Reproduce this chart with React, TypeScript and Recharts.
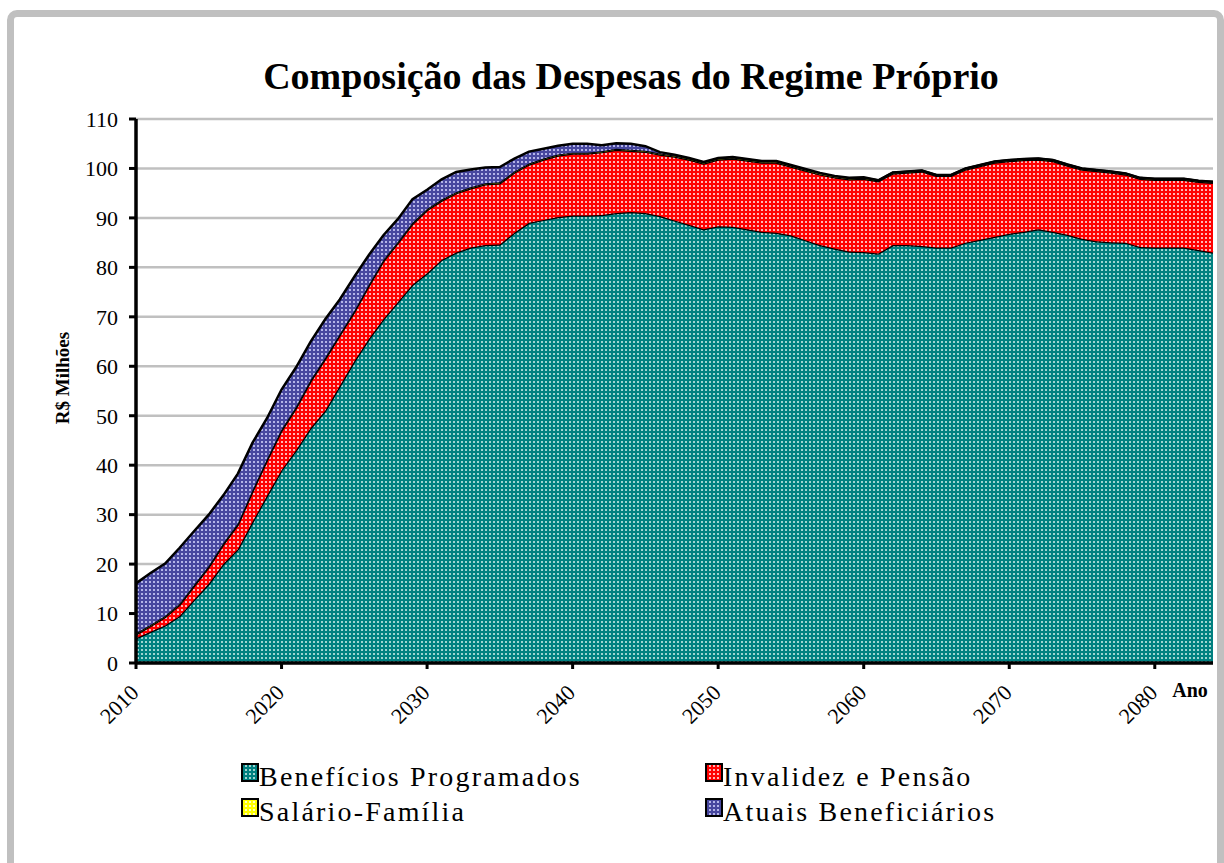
import React from 'react';
import { AreaChart, Area, XAxis, YAxis, CartesianGrid } from 'recharts';

const years = [
  2010, 2011, 2012, 2013, 2014, 2015, 2016, 2017, 2018, 2019,
  2020, 2021, 2022, 2023, 2024, 2025, 2026, 2027, 2028, 2029,
  2030, 2031, 2032, 2033, 2034, 2035, 2036, 2037, 2038, 2039,
  2040, 2041, 2042, 2043, 2044, 2045, 2046, 2047, 2048, 2049,
  2050, 2051, 2052, 2053, 2054, 2055, 2056, 2057, 2058, 2059,
  2060, 2061, 2062, 2063, 2064, 2065, 2066, 2067, 2068, 2069,
  2070, 2071, 2072, 2073, 2074, 2075, 2076, 2077, 2078, 2079,
  2080, 2081, 2082, 2083, 2084,
];

const beneficiosProgramados = [
  5.0, 6.3, 7.6, 9.5, 12.8, 16.0, 20.0, 23.0, 28.5, 33.8,
  39.0, 43.0, 47.5, 51.0, 56.0, 61.0, 65.5, 69.5, 73.0, 76.5,
  78.8, 81.5, 83.0, 84.0, 84.5, 84.6, 87.0, 89.0, 89.6, 90.2,
  90.5, 90.5, 90.6, 91.0, 91.2, 91.0, 90.4, 89.5, 88.6, 87.7,
  88.3, 88.2, 87.7, 87.2, 87.0, 86.5, 85.5, 84.5, 83.8, 83.2,
  83.1, 82.8, 84.5, 84.5, 84.3, 84.0, 84.0, 85.0, 85.6, 86.2,
  86.8, 87.2, 87.7, 87.2, 86.6, 85.8, 85.3, 85.1, 85.0, 84.1,
  84.0, 84.0, 84.0, 83.5, 83.0,
];

const invalidezPensao = [
  0.8, 1.2, 1.7, 2.3, 2.8, 3.4, 4.0, 5.0, 6.2, 7.2,
  8.0, 8.6, 9.5, 10.5, 10.3, 10.0, 10.8, 11.8, 12.0, 12.3,
  12.8, 12.0, 12.0, 12.0, 12.3, 12.4, 12.2, 11.8, 12.2, 12.4,
  12.5, 12.5, 12.7, 12.8, 12.4, 12.4, 12.4, 12.9, 13.2, 13.3,
  13.5, 13.8, 13.9, 14.0, 14.2, 13.9, 14.1, 14.3, 14.4, 14.6,
  14.8, 14.6, 14.5, 14.7, 15.1, 14.5, 14.5, 14.8, 14.9, 15.0,
  14.7, 14.5, 14.1, 14.3, 14.0, 14.0, 14.2, 14.1, 13.8, 13.8,
  13.7, 13.7, 13.7, 13.8, 14.1,
];

const salarioFamilia = [
  0.2, 0.2, 0.2, 0.2, 0.2, 0.2, 0.2, 0.2, 0.2, 0.2,
  0.2, 0.2, 0.2, 0.2, 0.2, 0.2, 0.2, 0.2, 0.2, 0.2,
  0.2, 0.2, 0.2, 0.2, 0.2, 0.2, 0.2, 0.2, 0.2, 0.2,
  0.2, 0.2, 0.2, 0.2, 0.2, 0.2, 0.2, 0.2, 0.2, 0.2,
  0.2, 0.2, 0.2, 0.2, 0.2, 0.2, 0.2, 0.2, 0.2, 0.2,
  0.2, 0.2, 0.2, 0.2, 0.2, 0.2, 0.2, 0.2, 0.2, 0.2,
  0.2, 0.2, 0.2, 0.2, 0.2, 0.2, 0.2, 0.2, 0.2, 0.2,
  0.2, 0.2, 0.2, 0.2, 0.2,
];

const atuaisBeneficiarios = [
  10.1, 10.5, 10.6, 11.3, 10.9, 10.4, 9.7, 10.1, 9.6, 8.3,
  8.1, 8.0, 7.8, 7.8, 7.0, 6.9, 6.0, 5.0, 4.6, 4.8,
  3.9, 4.1, 4.1, 3.6, 3.2, 3.1, 2.6, 2.4, 2.0, 1.8,
  1.8, 1.8, 1.2, 1.1, 1.2, 0.9, 0.3, 0.2, 0.1, 0.1,
  0.1, 0.1, 0.1, 0.1, 0.1, 0.1, 0.1, 0.1, 0.1, 0.1,
  0.1, 0.0, 0.0, 0.0, 0.0, 0.0, 0.0, 0.0, 0.0, 0.0,
  0.0, 0.0, 0.0, 0.0, 0.0, 0.0, 0.0, 0.0, 0.0, 0.0,
  0.0, 0.0, 0.0, 0.0, 0.0,
];

const yTicks = [0, 10, 20, 30, 40, 50, 60, 70, 80, 90, 100, 110];
const xTicks = [2010, 2020, 2030, 2040, 2050, 2060, 2070, 2080];

const seriesNames = [
  'Benefícios Programados',
  'Invalidez e Pensão',
  'Salário-Família',
  'Atuais Beneficiários',
];
const titleText = 'Composição das Despesas do Regime Próprio';
const yLabelText = 'R$ Milhões';
const xLabelText = 'Ano';

const data = years.map((year, i) => ({
  year,
  bp: beneficiosProgramados[i],
  ip: invalidezPensao[i],
  sf: salarioFamilia[i],
  ab: atuaisBeneficiarios[i],
}));

const FONT = '"Liberation Serif", "Times New Roman", serif';

const patterns = [
  { id: 'patTeal', base: '#008080', dot: '#9fd4d0' },
  { id: 'patRed', base: '#ff0000', dot: '#ffb4b4' },
  { id: 'patYellow', base: '#ffff00', dot: '#ffffc0' },
  { id: 'patBlue', base: '#47479f', dot: '#b4b4e8' },
];

const XTick = (props: any) => {
  const { x, y, payload } = props;
  const ax = x + 4;
  const ay = y + 23;
  return (
    <text
      x={ax}
      y={ay}
      textAnchor="end"
      fontSize={22}
      fontFamily={FONT}
      fill="#000"
      transform={`rotate(-45, ${ax}, ${ay})`}
    >
      {payload.value}
    </text>
  );
};

const legendLayout = [
  { name: seriesNames[0], pat: 'patTeal', x: 242, y: 764 },
  { name: seriesNames[1], pat: 'patRed', x: 706, y: 764 },
  { name: seriesNames[2], pat: 'patYellow', x: 242, y: 799 },
  { name: seriesNames[3], pat: 'patBlue', x: 706, y: 799 },
];

export default function App() {
  return (
    <div
      style={{
        position: 'absolute',
        left: 0,
        top: 0,
        width: 1224,
        height: 863,
        overflow: 'hidden',
        background: '#fff',
        fontFamily: FONT,
      }}
    >
      <div
        style={{
          position: 'absolute',
          left: 7,
          top: 10,
          width: 1217,
          height: 900,
          boxSizing: 'border-box',
          border: '7px solid #c0c0c0',
          borderRadius: 10,
        }}
      />
      <div style={{ position: 'absolute', left: 0, top: 0 }}>
        <AreaChart
          width={1224}
          height={863}
          data={data}
          margin={{ top: 119, right: 11, bottom: 140, left: 0 }}
        >
          <defs>
            {patterns.map((p) => (
              <pattern key={p.id} id={p.id} width={4} height={4} patternUnits="userSpaceOnUse">
                <rect width={4} height={4} fill={p.base} />
                <rect x={1} y={1} width={2} height={2} fill={p.dot} />
              </pattern>
            ))}
          </defs>
          <CartesianGrid vertical={false} stroke="#c0c0c0" strokeWidth={2.5} />
          <XAxis
            dataKey="year"
            type="number"
            domain={[2010, 2084]}
            ticks={xTicks}
            height={60}
            tickSize={6}
            tickMargin={2}
            axisLine={{ stroke: '#000', strokeWidth: 3.5 }}
            tickLine={{ stroke: '#000', strokeWidth: 3 }}
            tick={<XTick />}
            interval={0}
          />
          <YAxis
            domain={[0, 110]}
            ticks={yTicks}
            width={136}
            tickSize={7}
            tickMargin={11}
            interval={0}
            axisLine={{ stroke: '#000', strokeWidth: 3.5 }}
            tickLine={{ stroke: '#000', strokeWidth: 3 }}
            tick={{ fill: '#000', fontSize: 22, fontFamily: FONT }}
          />
          <Area
            type="linear"
            dataKey="bp"
            stackId="1"
            stroke="#000"
            strokeWidth={2.5}
            fill="url(#patTeal)"
            fillOpacity={1}
            isAnimationActive={false}
          />
          <Area
            type="linear"
            dataKey="ip"
            stackId="1"
            stroke="#000"
            strokeWidth={2.5}
            fill="url(#patRed)"
            fillOpacity={1}
            isAnimationActive={false}
          />
          <Area
            type="linear"
            dataKey="sf"
            stackId="1"
            stroke="#000"
            strokeWidth={2}
            fill="url(#patYellow)"
            fillOpacity={1}
            isAnimationActive={false}
          />
          <Area
            type="linear"
            dataKey="ab"
            stackId="1"
            stroke="#000"
            strokeWidth={2.5}
            fill="url(#patBlue)"
            fillOpacity={1}
            isAnimationActive={false}
          />
        </AreaChart>
      </div>
      <svg
        width={1224}
        height={863}
        style={{ position: 'absolute', left: 0, top: 0, pointerEvents: 'none' }}
      >
        <text
          x={631}
          y={89}
          textAnchor="middle"
          fontSize={38}
          fontWeight="bold"
          fontFamily={FONT}
          fill="#000"
        >
          {titleText}
        </text>
        <text
          transform="translate(69,378) rotate(-90)"
          textAnchor="middle"
          fontSize={19}
          fontWeight="bold"
          fontFamily={FONT}
          fill="#000"
        >
          {yLabelText}
        </text>
        <text
          x={1190}
          y={697}
          textAnchor="middle"
          fontSize={20}
          fontWeight="bold"
          fontFamily={FONT}
          fill="#000"
        >
          {xLabelText}
        </text>
        {legendLayout.map((l) => (
          <g key={l.name}>
            <rect
              x={l.x}
              y={l.y}
              width={16}
              height={17}
              fill={`url(#${l.pat})`}
              stroke="#000"
              strokeWidth={2}
            />
            <text
              x={l.x + 17}
              y={l.y + 22}
              fontSize={28}
              fontFamily={FONT}
              letterSpacing={2.2}
              fill="#000"
            >
              {l.name}
            </text>
          </g>
        ))}
      </svg>
    </div>
  );
}
